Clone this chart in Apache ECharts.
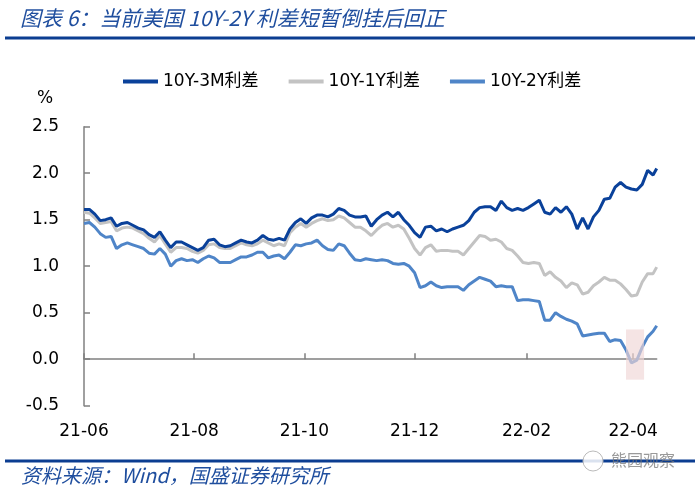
<!DOCTYPE html>
<html>
<head>
<meta charset="utf-8">
<script src="https://cdn.jsdelivr.net/npm/echarts@6/dist/echarts.min.js"></script>
<style>
  html, body { margin: 0; padding: 0; background: #fff; }
  #chart { width: 700px; height: 489px; }
</style>
</head>
<body>
<div id="chart"></div>
<script>
// ---- data ----
const titleText = '图表 6：当前美国 10Y-2Y 利差短暂倒挂后回正';
const sourceText = '资料来源：Wind，国盛证券研究所';
const watermarkText = '熊园观察';
const seriesNames = ['10Y-3M利差', '10Y-1Y利差', '10Y-2Y利差'];
const xTickDates = ['2021-06-01', '2021-08-01', '2021-10-01', '2021-12-01', '2022-02-01', '2022-04-01'];
const xMin = '2021-06-01';
const xMax = '2022-04-14';
const yMin = -0.5, yMax = 2.5, yStep = 0.5;
const highlightX = ['2022-03-28', '2022-04-07'];
const highlightY = [-0.22, 0.32];

const dates = [
  '2021-06-01','2021-06-04','2021-06-07','2021-06-10','2021-06-13','2021-06-16','2021-06-19','2021-06-22','2021-06-25','2021-06-28',
  '2021-07-01','2021-07-04','2021-07-07','2021-07-10','2021-07-13','2021-07-16','2021-07-19','2021-07-22','2021-07-25','2021-07-28','2021-07-31',
  '2021-08-03','2021-08-06','2021-08-09','2021-08-12','2021-08-15','2021-08-18','2021-08-21','2021-08-24','2021-08-27','2021-08-30',
  '2021-09-02','2021-09-05','2021-09-08','2021-09-11','2021-09-14','2021-09-17','2021-09-20','2021-09-23','2021-09-26','2021-09-29',
  '2021-10-02','2021-10-05','2021-10-08','2021-10-11','2021-10-14','2021-10-17','2021-10-20','2021-10-23','2021-10-26','2021-10-29',
  '2021-11-01','2021-11-04','2021-11-07','2021-11-10','2021-11-13','2021-11-16','2021-11-19','2021-11-22','2021-11-25','2021-11-28',
  '2021-12-01','2021-12-04','2021-12-07','2021-12-10','2021-12-13','2021-12-16','2021-12-19','2021-12-22','2021-12-25','2021-12-28','2021-12-31',
  '2022-01-03','2022-01-06','2022-01-09','2022-01-12','2022-01-15','2022-01-18','2022-01-21','2022-01-24','2022-01-27','2022-01-30',
  '2022-02-02','2022-02-05','2022-02-08','2022-02-11','2022-02-14','2022-02-17','2022-02-20','2022-02-23','2022-02-26',
  '2022-03-01','2022-03-04','2022-03-07','2022-03-10','2022-03-13','2022-03-16','2022-03-19','2022-03-22','2022-03-25','2022-03-28','2022-03-31',
  '2022-04-03','2022-04-06','2022-04-09','2022-04-12','2022-04-14'
];

const spread3M = [
  1.61,1.61,1.56,1.49,1.50,1.52,1.43,1.46,1.47,1.44,
  1.41,1.39,1.34,1.31,1.37,1.28,1.20,1.26,1.26,1.23,1.20,
  1.17,1.20,1.28,1.29,1.23,1.21,1.22,1.25,1.28,1.26,
  1.25,1.28,1.33,1.29,1.28,1.30,1.28,1.40,1.47,1.51,
  1.46,1.52,1.55,1.55,1.53,1.56,1.62,1.60,1.55,1.53,
  1.53,1.54,1.43,1.50,1.55,1.58,1.53,1.58,1.50,1.44,
  1.36,1.31,1.42,1.43,1.38,1.40,1.37,1.40,1.42,1.44,1.49,
  1.58,1.63,1.64,1.64,1.60,1.70,1.63,1.60,1.62,1.60,
  1.63,1.67,1.71,1.58,1.56,1.63,1.58,1.64,1.56,
  1.40,1.52,1.40,1.53,1.60,1.72,1.73,1.85,1.90,1.85,1.83,
  1.82,1.88,2.03,1.98,2.05
];

const spread1Y = [
  1.58,1.57,1.52,1.46,1.47,1.48,1.38,1.41,1.42,1.41,
  1.38,1.35,1.30,1.26,1.33,1.24,1.15,1.20,1.20,1.19,1.16,
  1.14,1.17,1.23,1.24,1.20,1.19,1.19,1.22,1.25,1.23,
  1.22,1.24,1.28,1.25,1.22,1.24,1.22,1.36,1.42,1.46,
  1.42,1.46,1.49,1.51,1.49,1.50,1.54,1.52,1.47,1.42,
  1.42,1.38,1.33,1.39,1.44,1.46,1.42,1.44,1.40,1.30,
  1.19,1.12,1.20,1.23,1.16,1.17,1.17,1.16,1.16,1.12,1.19,
  1.26,1.33,1.32,1.28,1.29,1.26,1.19,1.17,1.11,1.04,
  1.03,1.04,1.03,0.90,0.94,0.88,0.84,0.77,0.82,
  0.80,0.70,0.72,0.79,0.83,0.88,0.85,0.85,0.81,0.75,0.68,
  0.69,0.83,0.92,0.92,0.99
];

const spread2Y = [
  1.46,1.47,1.42,1.35,1.31,1.32,1.19,1.23,1.25,1.23,
  1.21,1.19,1.14,1.13,1.19,1.13,1.00,1.06,1.08,1.06,1.07,
  1.04,1.08,1.11,1.09,1.04,1.04,1.04,1.07,1.10,1.10,
  1.12,1.15,1.15,1.09,1.11,1.12,1.08,1.15,1.23,1.22,
  1.24,1.25,1.28,1.22,1.18,1.17,1.24,1.22,1.14,1.07,
  1.06,1.08,1.07,1.06,1.07,1.06,1.03,1.02,1.03,1.00,
  0.93,0.77,0.79,0.83,0.79,0.77,0.78,0.78,0.78,0.74,0.80,
  0.84,0.88,0.86,0.84,0.78,0.79,0.78,0.78,0.63,0.64,
  0.64,0.63,0.62,0.42,0.42,0.50,0.46,0.43,0.41,
  0.38,0.25,0.26,0.27,0.28,0.28,0.19,0.21,0.20,0.10,-0.04,
  -0.01,0.13,0.24,0.30,0.36
];

const colors = ['#0a419a', '#c3c3c3', '#4f85c8'];

// ---- chart ----
const chart = echarts.init(document.getElementById('chart'), null, { renderer: 'canvas' });
const ts = s => Date.parse(s + 'T00:00:00Z');
const toPairs = vals => dates.map((d, i) => [ts(d), vals[i]]);
const fontLatin = '"DejaVu Sans", "Noto Sans CJK SC", sans-serif';
const fontCJK = '"Noto Sans CJK SC", "DejaVu Sans", sans-serif';
const pad2 = n => (n < 10 ? '0' : '') + n;
const tickValues = xTickDates.map(ts);

const option = {
  backgroundColor: '#ffffff',
  animation: false,
  color: colors,
  title: {
    text: titleText,
    left: 15, top: 3,
    textStyle: { fontFamily: fontCJK, fontSize: 21, fontStyle: 'italic', fontWeight: 'normal', color: '#1f4e9e' }
  },
  legend: {
    data: seriesNames,
    left: 118, top: 68,
    icon: 'rect', itemWidth: 35, itemHeight: 4, itemGap: 30,
    textStyle: { fontFamily: fontLatin, fontSize: 17, color: '#000' }
  },
  grid: { left: 84, right: 43.3, top: 126.7, bottom: 83.3, containLabel: false },
  xAxis: {
    type: 'value',
    min: ts(xMin), max: ts(xMax),
    axisLine: { onZero: true, lineStyle: { color: '#808080', width: 1.5 } },
    axisTick: { show: true, inside: true, length: 6, customValues: tickValues, lineStyle: { color: '#808080', width: 1.5 } },
    axisLabel: {
      customValues: tickValues,
      margin: 17,
      fontFamily: fontLatin, fontSize: 17, color: '#000',
      hideOverlap: false,
      formatter: v => { const d = new Date(v); return String(d.getUTCFullYear()).slice(2) + '-' + pad2(d.getUTCMonth() + 1); }
    },
    splitLine: { show: false }
  },
  yAxis: {
    type: 'value',
    min: yMin, max: yMax, interval: yStep,
    axisLine: { show: true, lineStyle: { color: '#808080', width: 1.5 } },
    axisTick: { show: true, inside: true, length: 6, lineStyle: { color: '#808080', width: 1.5 } },
    axisLabel: { margin: 25, fontFamily: fontLatin, fontSize: 17, color: '#000', formatter: v => v.toFixed(1) },
    splitLine: { show: false }
  },
  series: [
    { name: seriesNames[0], type: 'line', data: toPairs(spread3M), showSymbol: false, symbol: 'none', z: 4,
      lineStyle: { width: 3, color: colors[0] } },
    { name: seriesNames[1], type: 'line', data: toPairs(spread1Y), showSymbol: false, symbol: 'none', z: 3,
      lineStyle: { width: 3, color: colors[1] } },
    { name: seriesNames[2], type: 'line', data: toPairs(spread2Y), showSymbol: false, symbol: 'none', z: 3,
      lineStyle: { width: 3, color: colors[2] },
      markArea: {
        silent: true, z: 6,
        itemStyle: { color: 'rgba(240, 214, 214, 0.65)' },
        data: [[ { xAxis: ts(highlightX[0]), yAxis: highlightY[0] }, { xAxis: ts(highlightX[1]), yAxis: highlightY[1] } ]]
      } }
  ],
  graphic: [
    { type: 'rect', left: 5, top: 36.5, shape: { width: 690, height: 3 }, style: { fill: '#0b3d91' } },
    { type: 'rect', left: 5, top: 459.5, shape: { width: 690, height: 3 }, style: { fill: '#0b3d91' } },
    { type: 'text', left: 37, top: 90, style: { text: '%', font: '17px "DejaVu Sans"', fill: '#000' } },
    { type: 'text', left: 21, top: 465, style: { text: sourceText, font: 'italic 20px "Noto Sans CJK SC"', fill: '#1f4e9e' } },
    { type: 'circle', shape: { cx: 593, cy: 461, r: 10 }, style: { fill: 'rgba(255,255,255,0.85)', stroke: '#bbbbbb', lineWidth: 1 } },
    { type: 'text', left: 611, top: 452, style: { text: watermarkText, font: '16px "Noto Sans CJK SC"', fill: 'rgba(120,120,120,0.75)' } }
  ]
};
chart.setOption(option);
</script>
</body>
</html>
